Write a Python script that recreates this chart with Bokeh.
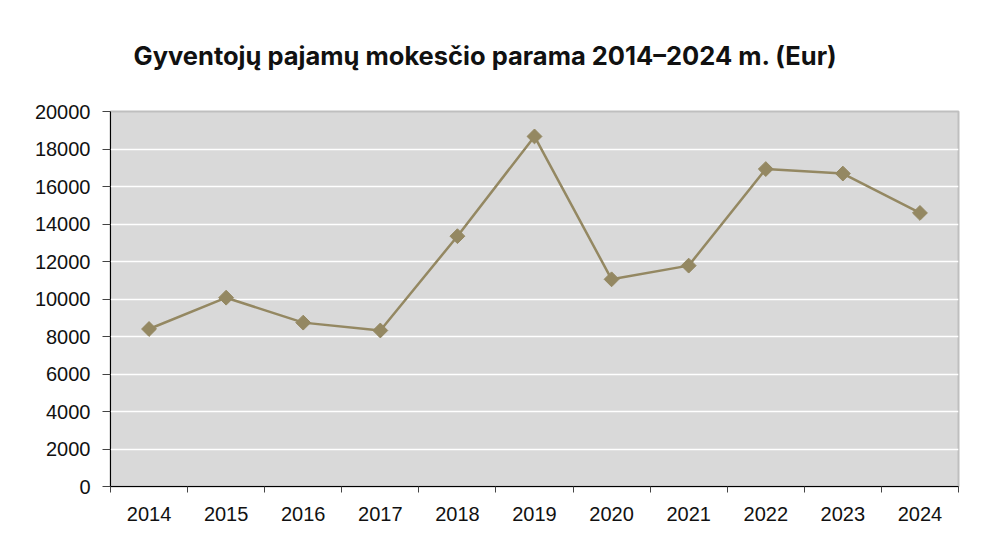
from bokeh.plotting import figure
from bokeh.models import FixedTicker, ColumnDataSource
from bokeh.embed import file_html
from bokeh.resources import INLINE
import math

# ---- data ----
years = ["2014", "2015", "2016", "2017", "2018", "2019", "2020", "2021", "2022", "2023", "2024"]
values = [8400, 10070, 8740, 8320, 13350, 18670, 11050, 11780, 16930, 16690, 14590]
y_ticks = [0, 2000, 4000, 6000, 8000, 10000, 12000, 14000, 16000, 18000, 20000]
title_text = "Gyventojų pajamų mokesčio parama 2014–2024 m. (Eur)"

xs = list(range(len(years)))
src = ColumnDataSource(dict(x=xs, y=values, year=years))

COLOR = "#948862"

p = figure(
    width=973, height=523,
    x_range=(-0.5, len(years) - 0.5), y_range=(y_ticks[0], y_ticks[-1]),
    output_backend="svg", toolbar_location=None,
    min_border_left=110, min_border_right=15, min_border_top=111, min_border_bottom=36,
    title=title_text,
)

p.background_fill_color = "#d9d9d9"
p.border_fill_color = "white"
p.outline_line_color = "#bfbfbf"
p.outline_line_width = 2

# title
p.title.text_font = "Inter"
p.title.text_font_style = "bold"
p.title.text_font_size = "25.5px"
p.title.text_color = "#111111"
p.title.align = "left"
p.title.vertical_align = "top"
p.title.offset = 23
p.title.standoff = 78

# grid
p.xgrid.visible = False
p.ygrid.grid_line_color = "white"
p.ygrid.grid_line_width = 1.5

# y axis
p.yaxis.ticker = FixedTicker(ticks=y_ticks)
p.yaxis.axis_line_color = "black"
p.yaxis.major_tick_line_color = "#444444"
p.yaxis.major_tick_out = 8
p.yaxis.major_tick_in = 0
p.yaxis.minor_tick_line_color = None
p.yaxis.major_label_text_font = "Liberation Sans"
p.yaxis.major_label_text_font_size = "20px"
p.yaxis.major_label_text_color = "#111111"
p.yaxis.major_label_standoff = 12

# x axis: labels at centres, ticks at category boundaries
p.xaxis.ticker = FixedTicker(ticks=xs, minor_ticks=[i - 0.5 for i in range(len(years) + 1)])
p.xaxis.major_label_overrides = {i: y for i, y in enumerate(years)}
p.xaxis.axis_line_color = "black"
p.xaxis.major_tick_line_color = None
p.xaxis.major_tick_out = 0
p.xaxis.major_tick_in = 0
p.xaxis.minor_tick_line_color = "#444444"
p.xaxis.minor_tick_out = 6
p.xaxis.minor_tick_in = 0
p.xaxis.major_label_text_font = "Liberation Sans"
p.xaxis.major_label_text_font_size = "20px"
p.xaxis.major_label_text_color = "#111111"
p.xaxis.major_label_standoff = 14

# series
p.line("x", "y", source=src, line_color=COLOR, line_width=2.5)
p.scatter("x", "y", source=src, marker="square", size=10.5, angle=math.pi / 4,
          fill_color=COLOR, line_color=COLOR)

open("out.html", "w").write(file_html(p, INLINE))
